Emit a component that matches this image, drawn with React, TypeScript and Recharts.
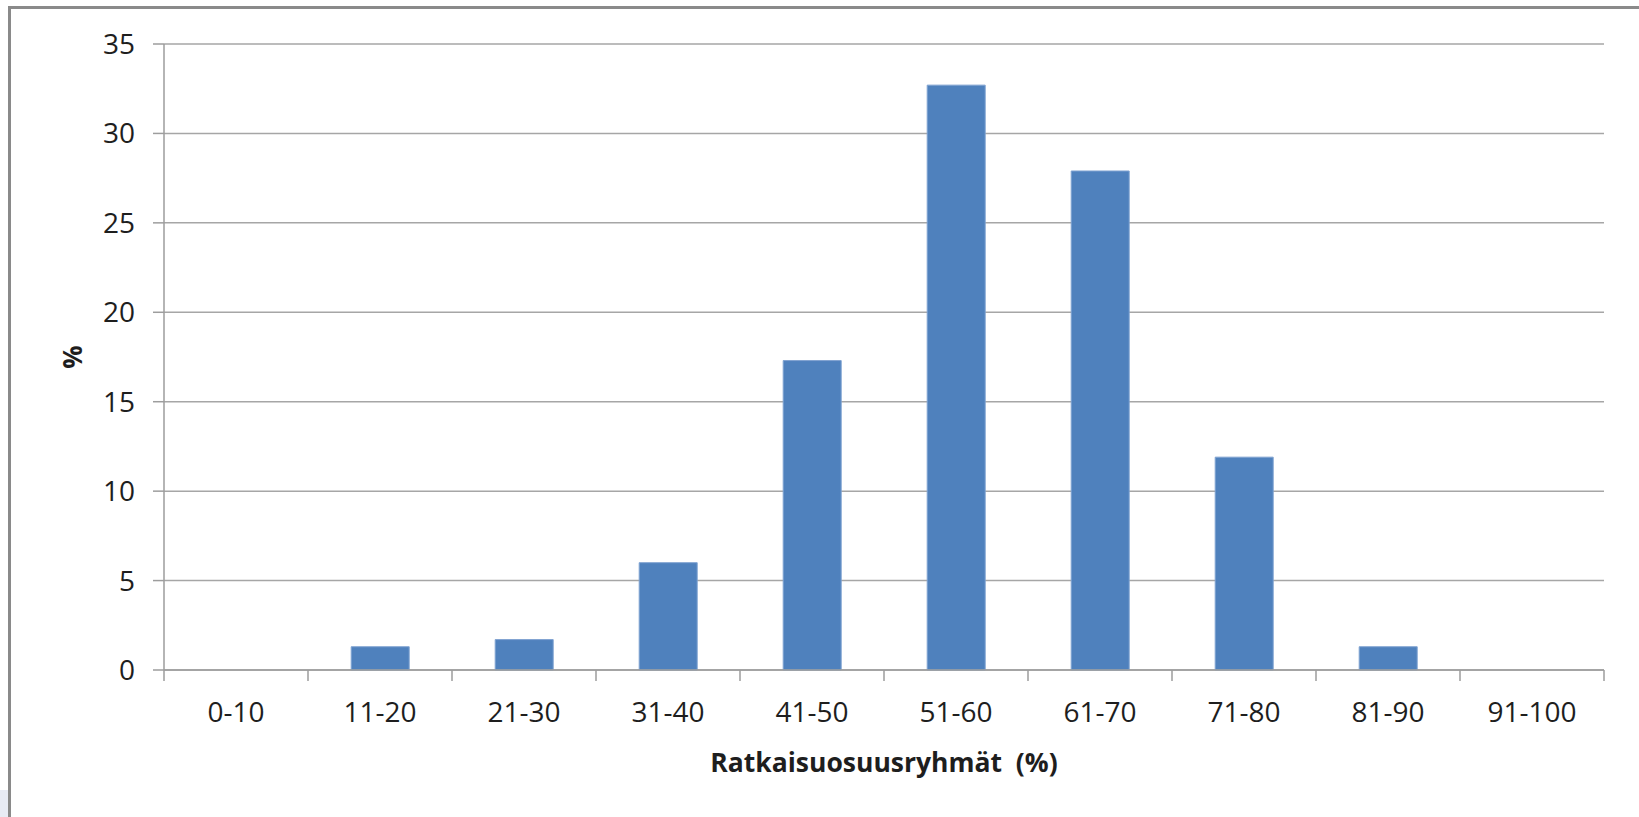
import { BarChart, Bar, XAxis, YAxis, CartesianGrid } from 'recharts'

const categories = ['0-10', '11-20', '21-30', '31-40', '41-50', '51-60', '61-70', '71-80', '81-90', '91-100']
const shares = [0, 1.3, 1.7, 6.0, 17.3, 32.7, 27.9, 11.9, 1.3, 0]
const yTicks = [0, 5, 10, 15, 20, 25, 30, 35]

const data = categories.map((name, i) => ({ name, value: shares[i] }))

const FONT = '"Open Sans", "Noto Sans", sans-serif'
const AXIS_GRAY = '#9d9d9d'
const TEXT = '#1e1e1e'
const X_TICK_SIZE = 11
const X_TICK_MARGIN = 21

function CategoryTick(props: any) {
  const { x, y, payload, index } = props
  const half = payload?.offset ?? 72
  const axisY = y - X_TICK_SIZE - X_TICK_MARGIN
  return (
    <g>
      <line x1={x - half} x2={x - half} y1={axisY} y2={axisY + X_TICK_SIZE} stroke={AXIS_GRAY} strokeWidth={1.5} />
      {index === categories.length - 1 && (
        <line x1={x + half} x2={x + half} y1={axisY} y2={axisY + X_TICK_SIZE} stroke={AXIS_GRAY} strokeWidth={1.5} />
      )}
      <text x={x} y={y} dy="0.71em" textAnchor="middle" fontFamily={FONT} fontSize={28} fill={TEXT}>
        {payload.value}
      </text>
    </g>
  )
}

export default function App() {
  return (
    <div style={{ position: 'absolute', left: 0, top: 0, width: 1639, height: 817, background: '#fff', overflow: 'hidden' }}>
      <div style={{ position: 'absolute', left: 0, top: 790, width: 8, height: 27, background: '#e8ebf4' }} />
      <div
        style={{
          position: 'absolute',
          left: 8,
          top: 6,
          width: 1700,
          height: 900,
          borderTop: '3px solid #8a8a8a',
          borderLeft: '3px solid #8a8a8a',
        }}
      />
      <div style={{ position: 'absolute', left: 0, top: 0 }}>
        <BarChart
          width={1639}
          height={817}
          data={data}
          margin={{ top: 44, right: 35, bottom: 0, left: 0 }}
          barCategoryGap="30%"
        >
          <CartesianGrid vertical={false} stroke="#a6a6a6" strokeWidth={1.5} />
          <XAxis
            dataKey="name"
            height={147}
            interval={0}
            tickLine={false}
            tickSize={X_TICK_SIZE}
            tickMargin={X_TICK_MARGIN}
            axisLine={{ stroke: AXIS_GRAY, strokeWidth: 1.5 }}
            tick={<CategoryTick />}
            label={{
              content: ({ viewBox }: any) => (
                <text
                  x={viewBox.x + viewBox.width / 2}
                  y={viewBox.y + 102}
                  textAnchor="middle"
                  fontFamily={FONT}
                  fontSize={26.5}
                  fontWeight={700}
                  fill={TEXT}
                  style={{ whiteSpace: 'pre' }}
                >
                  Ratkaisuosuusryhmät  (%)
                </text>
              ),
            }}
          />
          <YAxis
            width={164}
            domain={[0, 35]}
            ticks={yTicks}
            interval={0}
            tickSize={11}
            tickMargin={18}
            axisLine={{ stroke: AXIS_GRAY, strokeWidth: 1.5 }}
            tickLine={{ stroke: AXIS_GRAY, strokeWidth: 1.5 }}
            tick={{ fontFamily: FONT, fontSize: 28, fill: TEXT }}
            label={{
              content: ({ viewBox }: any) => (
                <text
                  x={72}
                  y={viewBox.y + viewBox.height / 2}
                  transform={`rotate(-90, 72, ${viewBox.y + viewBox.height / 2})`}
                  textAnchor="middle"
                  dominantBaseline="central"
                  fontFamily={FONT}
                  fontSize={26}
                  fontWeight={700}
                  fill={TEXT}
                >
                  %
                </text>
              ),
            }}
          />
          <Bar dataKey="value" fill="#4f81bd" stroke="#7fa2d1" strokeWidth={1} isAnimationActive={false} />
        </BarChart>
      </div>
    </div>
  )
}
